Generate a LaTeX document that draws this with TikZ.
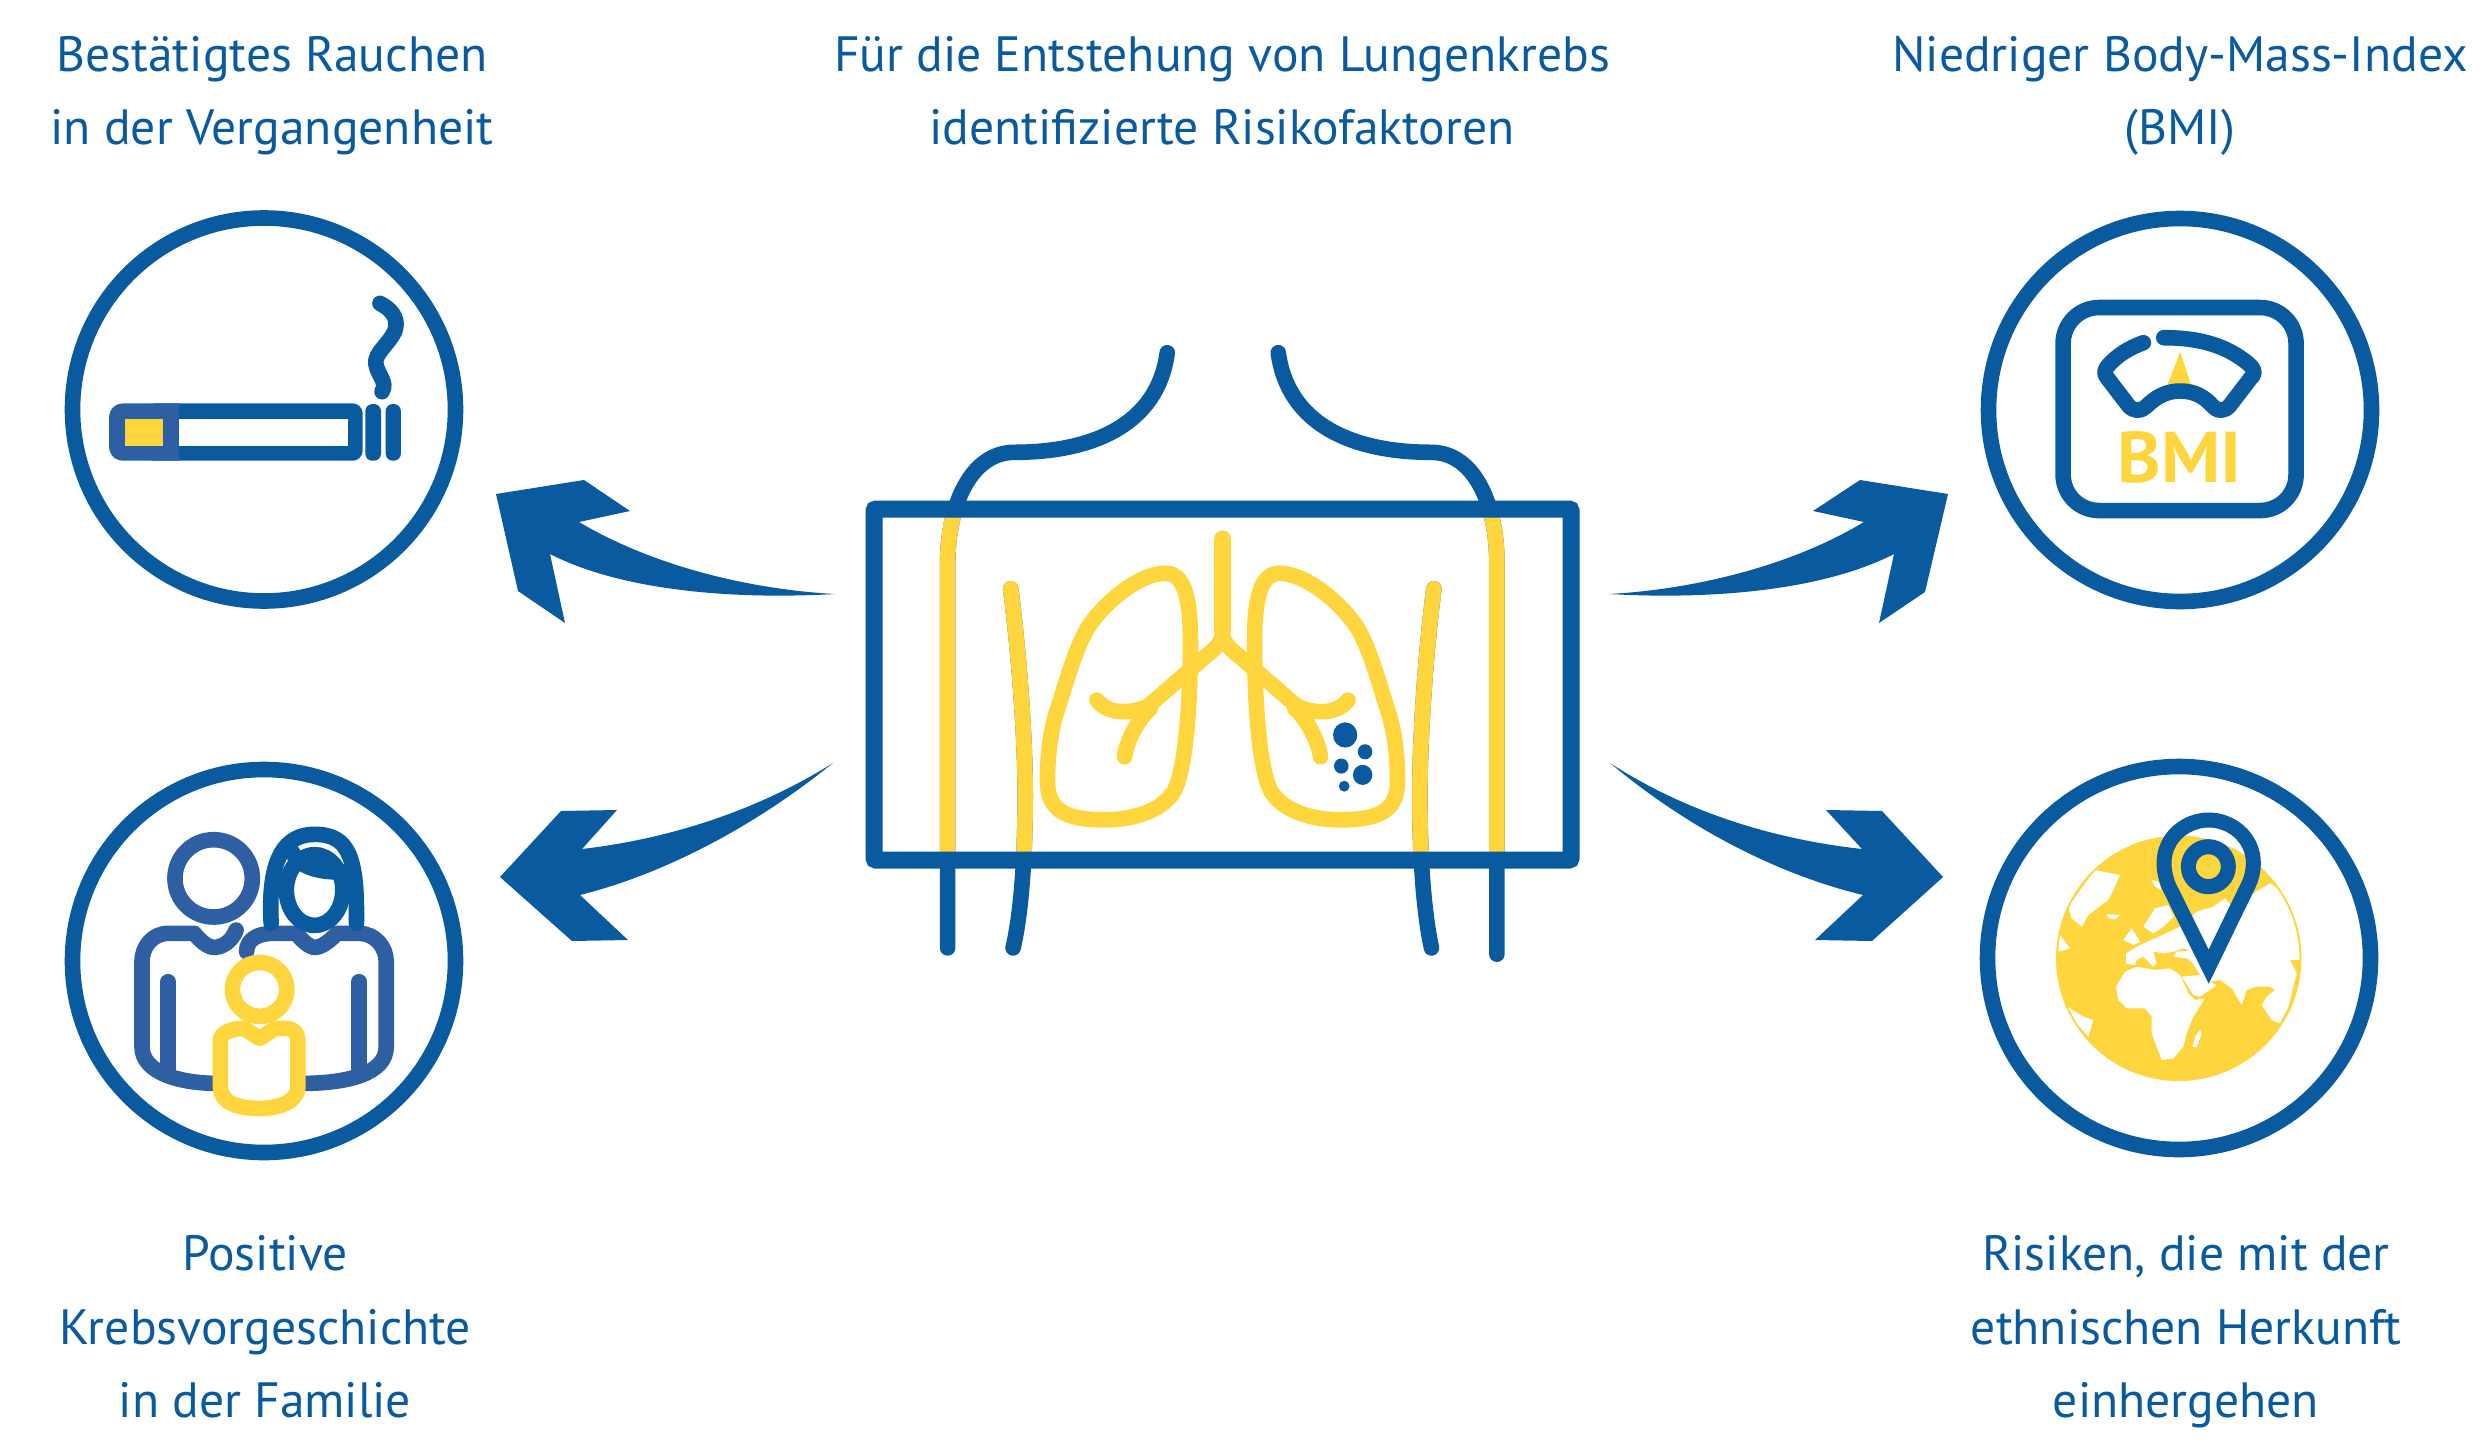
\documentclass[tikz,border=0pt]{standalone}
\usepackage{fontspec}
\usepackage{graphicx}
\setmainfont{PT Sans}
\definecolor{mainblue}{HTML}{0A5AA0}
\definecolor{softblue}{HTML}{2F5FA3}
\definecolor{sun}{HTML}{FFD53D}
\tikzset{
  figframe/.style={shift={(840,320)},x=.2424pt,y=-.21pt},
  zsmoke/.style={shift={(40,190)},x=.2615pt,y=-.1667pt},
  zfam/.style={shift={(40,740)},x=.2615pt,y=-.1667pt},
  zbmi/.style={shift={(1600,190)},x=.2551pt,y=-.1667pt},
  zglobe/.style={shift={(2040,820)},x=.16667pt,y=-.16667pt},
  ringnode/.style={circle,draw=mainblue,line width=7.8pt,minimum size=191.5pt,inner sep=0pt},
  captxt/.style={text=mainblue,align=center,anchor=base,font=\fontsize{24.8}{36.75}\selectfont},
  lineicon/.style={line width=7.8pt,line cap=round,line join=round},
  bigarrow/.style={fill=mainblue},
}
\newcommand{\lunghalf}{%
  \draw[sun,lineicon] (672,603) .. controls (610,603) and (530,690) .. (505,745)
    .. controls (480,800) and (460,890) .. (445,940)
    .. controls (430,1000) and (428,1060) .. (428,1100)
    .. controls (428,1170) and (470,1190) .. (545,1190)
    .. controls (620,1190) and (670,1160) .. (690,1120)
    .. controls (715,1060) and (722,900) .. (723,780)
    .. controls (723,700) and (720,603) .. (672,603) -- cycle;
  \draw[sun,lineicon] (790,520) -- (790,740) .. controls (790,770) and (770,785) .. (755,800)
    -- (640,915) .. controls (625,930) and (560,950) .. (530,905);
  \draw[sun,lineicon] (640,925) .. controls (615,950) and (590,1005) .. (587,1040);
}
\begin{document}
\begin{tikzpicture}[x=.5pt,y=-.5pt]
\useasboundingbox[fill=white] (0,0) rectangle (2490,1450);

% captions
\node[captxt] (capa) at (272,145) {Bestätigtes Rauchen\\in der Vergangenheit};
\node[captxt] (capb) at (1222,145) {Für die Entstehung von Lungenkrebs\\identifizierte Risikofaktoren};
\node[captxt] (capc) at (2180,145) {Niedriger Body-Mass-Index\\(BMI)};
\node[captxt] (capd) at (265,1417.5) {Positive\\Krebsvorgeschichte\\in der Familie};
\node[captxt] (cape) at (2186,1417.5) {Risiken, die mit der\\ethnischen Herkunft\\einhergehen};

% rings
\node[ringnode] (smoke) at (264,409.5) {};
\node[ringnode] (family) at (264,961) {};
\node[ringnode] (bmi) at (2180,410) {};
\node[ringnode] (world) at (2179,958) {};

% arrows
\coordinate (tl) at (835,594); \coordinate (tr) at (1609,594);
\coordinate (bl) at (833,763); \coordinate (br) at (1610,763);
\fill[bigarrow] (tl) .. controls (760,590) and (660,570) .. (579,522) -- (630,511) -- (584,480) -- (496,494) -- (518,591) -- (565,623) -- (550,554) .. controls (620,590) and (730,600) .. (tl) -- cycle;
\fill[bigarrow] (tr) .. controls (1684,590) and (1784,570) .. (1864,522) -- (1813,511) -- (1860,480) -- (1948,494) -- (1925,592) -- (1879,623) -- (1894,554) .. controls (1824,590) and (1714,600) .. (tr) -- cycle;
\fill[bigarrow] (bl) .. controls (750,815) and (660,840) .. (582,849) -- (617,810) -- (561,811) -- (500,877) -- (572,941) -- (628,940) -- (580,895) .. controls (660,875) and (750,830) .. (bl) -- cycle;
\fill[bigarrow] (br) .. controls (1690,815) and (1780,840) .. (1862,849) -- (1826,810) -- (1882,811) -- (1943,877) -- (1872,941) -- (1815,940) -- (1863,895) .. controls (1780,875) and (1690,830) .. (br) -- cycle;

% central figure
\begin{scope}[figframe]
  \def\bodypaths{
    \draw[lineicon] (675,78) .. controls (655,250) and (520,315) .. (360,315)
      .. controls (270,315) and (222,440) .. (222,580) -- (222,1495);
    \draw[lineicon] (904,78) .. controls (924,250) and (1059,315) .. (1219,315)
      .. controls (1309,315) and (1355,440) .. (1355,580) -- (1355,1510);
    \draw[lineicon] (352,640) .. controls (370,800) and (382,1000) .. (382,1130)
      .. controls (382,1300) and (372,1420) .. (357,1495);
    \draw[lineicon] (1225,640) .. controls (1207,800) and (1196,1000) .. (1196,1130)
      .. controls (1196,1300) and (1206,1420) .. (1220,1495);
  }
  \begin{scope}[mainblue] \bodypaths \end{scope}
  \begin{scope}
    \clip (70,450) rectangle (1508,1285);
    \begin{scope}[sun] \bodypaths \end{scope}
  \end{scope}
  \lunghalf
  \begin{scope}[shift={(1578,0)},xscale=-1]\lunghalf\end{scope}
  \fill[mainblue] (1042,988) ellipse [x radius=25,y radius=30];
  \fill[mainblue] (1083,1028) ellipse [x radius=15,y radius=18];
  \fill[mainblue] (1034,1062) ellipse [x radius=15,y radius=18];
  \fill[mainblue] (1078,1083) ellipse [x radius=20,y radius=24];
  \fill[mainblue] (1040,1110) ellipse [x radius=11,y radius=13];
\end{scope}
\node[draw=mainblue,line width=8.5pt,rounded corners=1pt,minimum width=348.5pt,minimum height=175.5pt,inner sep=0pt] (screen) at (1222.5,684.5) {};

% cigarette
\begin{scope}[zsmoke]
  \fill[mainblue,rounded corners=5pt] (200,640) rectangle (617,812);
  \fill[softblue] (265,640) -- (160,640) .. controls (142,640) and (132,660) .. (132,685) -- (132,767)
    .. controls (132,792) and (142,812) .. (160,812) -- (265,812) -- cycle;
  \fill[white] (265,688) rectangle (588,767);
  \fill[sun] (162,688) rectangle (236,767);
  \fill[mainblue,rounded corners=3.5pt] (622,642) rectangle (652,812);
  \fill[mainblue,rounded corners=3.5pt] (661,642) rectangle (690,812);
  \draw[mainblue,line width=7.8pt,line cap=round] (650,340) .. controls (680,365) and (685,395) .. (678,425)
    .. controls (665,465) and (640,490) .. (642,520)
    .. controls (645,555) and (665,575) .. (654,605);
\end{scope}

% family
\begin{scope}[zfam]
  \draw[softblue,line width=7.8pt] (332,415) ellipse [x radius=74,y radius=116];
  \draw[softblue,lineicon] (375,570) .. controls (365,610) and (345,622) .. (333,622)
    .. controls (320,622) and (305,600) .. (295,580) -- (245,580)
    .. controls (215,580) and (195,620) .. (195,665) -- (195,920)
    .. controls (195,1000) and (270,1030) .. (340,1030);
  \draw[softblue,lineicon] (395,635) .. controls (395,600) and (415,580) .. (445,580) -- (490,580)
    .. controls (500,600) and (515,622) .. (525,622)
    .. controls (540,622) and (555,600) .. (568,580) -- (610,580)
    .. controls (640,580) and (662,620) .. (662,665) -- (662,920)
    .. controls (662,1000) and (590,1030) .. (500,1030);
  \draw[softblue,lineicon] (245,725) -- (245,985);
  \draw[softblue,lineicon] (610,725) -- (610,985);
  \draw[mainblue,line width=7.8pt] (525,450) ellipse [x radius=54,y radius=106];
  \draw[mainblue,lineicon] (442,550) .. controls (435,350) and (470,283) .. (525,283)
    .. controls (590,283) and (607,350) .. (605,550);
  \draw[mainblue,lineicon] (482,335) .. controls (495,385) and (540,400) .. (590,395);
  \draw[sun,fill=white,line width=7.8pt,line join=round] (390,865) -- (420,895) -- (450,865) -- (470,865)
    .. controls (485,865) and (493,880) .. (493,900) -- (493,1040)
    .. controls (493,1090) and (450,1105) .. (420,1105)
    .. controls (380,1105) and (345,1090) .. (345,1040) -- (345,900)
    .. controls (345,880) and (365,865) .. (390,865) -- cycle;
  \draw[sun,fill=white,line width=7.8pt] (420,748) ellipse [x radius=52,y radius=81];
\end{scope}

% scale
\begin{scope}[zbmi]
  \node[draw=mainblue,line width=7.8pt,rounded corners=18pt,minimum width=116.5pt,minimum height=101.5pt,inner sep=0pt] (scalebody) at (1136,657) {};
  \fill[sun] (1137,485) -- (1113,582) -- (1158,582) -- cycle;
  \draw[mainblue,lineicon] (1065,458) .. controls (1035,475) and (1015,495) .. (997,525)
    .. controls (985,545) and (990,555) .. (995,565) -- (1035,645)
    .. controls (1045,665) and (1060,665) .. (1070,650)
    .. controls (1090,620) and (1110,603) .. (1137,603)
    .. controls (1165,603) and (1185,620) .. (1202,650)
    .. controls (1210,665) and (1225,665) .. (1235,645) -- (1275,565)
    .. controls (1285,550) and (1285,540) .. (1270,520)
    .. controls (1230,470) and (1180,443) .. (1105,443);
  \node[text=sun,inner sep=0pt] (bmitext) at (1136,802) {\resizebox{62pt}{25.5pt}{\bfseries BMI}};
\end{scope}

% globe
\begin{scope}[zglobe]
  \fill[sun] (416,415) circle [radius=368];
  \begin{scope}
    \path[clip] (416,415) circle [radius=362];
    \fill[white] (85,262) -- (110,225) -- (165,150) -- (240,165) -- (225,200) -- (205,240) -- (145,285) -- (125,320) -- (95,295) -- cycle;
    \fill[white] (200,283) -- (240,285) -- (225,298) -- (205,295) -- cycle;
    \fill[white] (60,345) -- (90,385) -- (55,395) -- (50,370) -- cycle;
    \fill[white] (335,180) -- (355,185) -- (365,210) -- (345,200) -- cycle;
    \fill[white] (310,320) -- (345,265) -- (385,255) -- (400,290) -- (370,320) -- (340,340) -- cycle;
    \fill[white] (250,360) -- (275,325) -- (300,365) -- (280,375) -- cycle;
    \fill[white] (258,432) -- (258,400) -- (300,375) -- (345,355) -- (400,330) -- (435,310) -- (470,275) -- (520,260) -- (555,235) -- (575,260) -- (640,220) -- (690,190) -- (740,225) -- (790,340) -- (790,420) -- (750,420) -- (770,460) -- (755,520) -- (745,560) -- (720,610) -- (695,600) -- (665,555) -- (680,530) -- (705,510) -- (690,500) -- (650,500) -- (620,510) -- (605,555) -- (575,505) -- (540,480) -- (510,485) -- (480,465) -- (455,425) -- (440,415) -- (400,410) -- (410,395) -- (450,392) -- (430,385) -- (400,395) -- (375,400) -- (340,395) -- (350,430) -- (340,440) -- (310,410) -- (290,420) -- (285,435) -- cycle;
    \fill[white] (228,500) -- (255,455) -- (290,440) -- (345,450) -- (390,445) -- (420,465) -- (445,520) -- (465,540) -- (495,535) -- (460,590) -- (440,640) -- (430,680) -- (400,715) -- (365,720) -- (350,680) -- (335,640) -- (335,590) -- (315,565) -- (260,565) -- (235,540) -- cycle;
    \fill[white] (425,470) -- (480,465) -- (520,490) -- (530,495) -- (480,530) -- (460,525) -- cycle;
    \fill[white] (85,562) -- (130,590) -- (160,600) -- (145,650) -- (110,610) -- cycle;
    \fill[white] (480,630) -- (485,640) -- (470,682) -- (458,680) -- (465,650) -- cycle;
  \end{scope}
  \draw[mainblue,fill=sun,line width=7.5pt] (505,140) circle [radius=60];
  \draw[mainblue,line width=7.5pt,line join=miter] (506,440) -- (385,195)
    .. controls (376,170) and (372,150) .. (372,130)
    .. controls (372,50) and (440,0) .. (506,0)
    .. controls (572,0) and (640,50) .. (640,130)
    .. controls (640,150) and (635,175) .. (625,195) -- cycle;
\end{scope}
\end{tikzpicture}
\end{document}
